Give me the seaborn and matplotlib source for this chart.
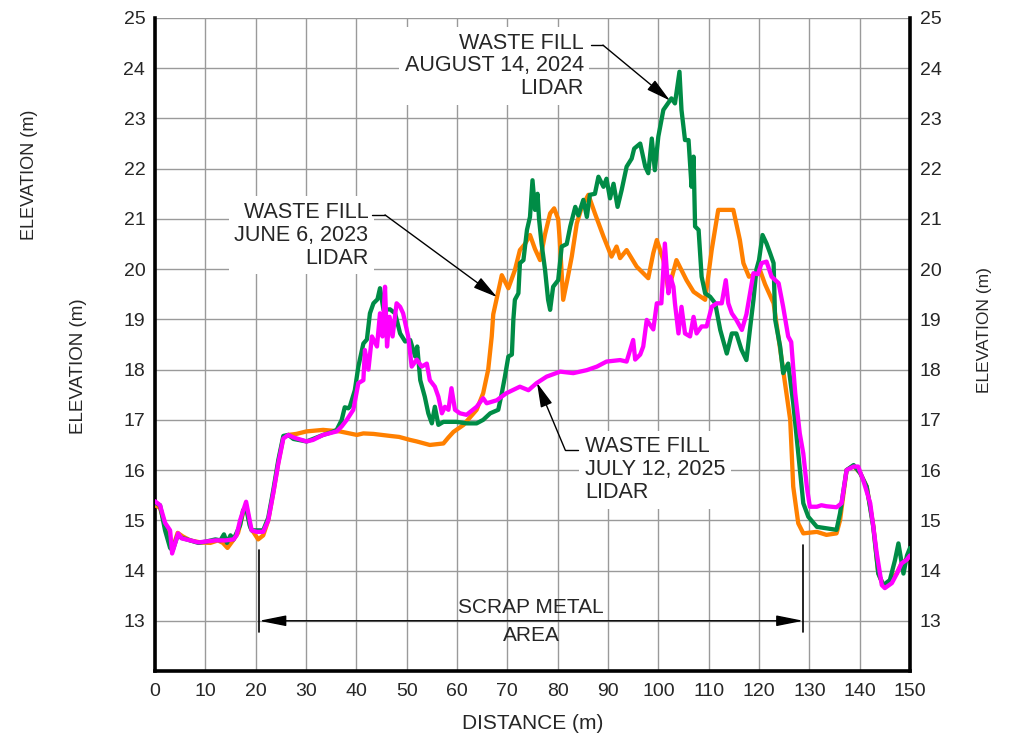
import numpy as np
import pandas as pd
import matplotlib
matplotlib.use("Agg")
import matplotlib.pyplot as plt
import seaborn as sns

# ---- Elevation profiles (distance in m, elevation in m) ----
dist_2023 = [0, 1, 2, 3, 3.5, 4.5, 5.5, 7, 9, 11, 12.5, 13.5, 14.4, 15.5, 16.5, 17.5, 18.1, 19, 20.5,
             21.5, 22.5, 23.5, 24.5, 25.5, 26.5, 28.1, 30.1, 33.4, 36.7, 40.1, 41.4, 43.4, 46.7, 48.5,
             50.7, 52, 54.6, 57.3, 58.3, 59.3, 61.3, 63.9, 65.2, 65.9, 66.2, 66.9, 67.2, 67.9, 68.9,
             70.2, 71.5, 72.5, 73.5, 74.5, 75.5, 76.5, 77.5, 78.5, 79.3, 80.1, 80.4, 81.1, 81.9, 82.8,
             83.8, 84.8, 86.1, 87.4, 89.1, 90.7, 91.7, 92.4, 93.7, 95.7, 97.0, 98.0, 99.0, 99.7, 101,
             102, 103.6, 105.6, 107, 109.3, 110.6, 111.9, 114.9, 116.2, 116.9, 118, 119.5, 120.2,
             121.2, 122.9, 124.8, 126.2, 126.8, 127.8, 128.8, 131.5, 133.4, 135.4, 136.1, 137.4,
             138.8, 140.1, 141.4, 142.7, 143.7, 144.7, 146, 147.4, 148.3, 149.3, 150]
elev_2023 = [15.3, 15.25, 14.9, 14.6, 14.45, 14.75, 14.68, 14.6, 14.56, 14.55, 14.6, 14.55, 14.45, 14.6,
             14.75, 15.15, 15.3, 14.85, 14.62, 14.7, 15.0, 15.55, 16.15, 16.65, 16.7, 16.72, 16.77,
             16.8, 16.77, 16.7, 16.73, 16.72, 16.68, 16.66, 16.6, 16.57, 16.5, 16.53, 16.65, 16.76,
             16.9, 17.2, 17.53, 17.86, 18.0, 18.66, 19.1, 19.42, 19.88, 19.62, 19.98, 20.38, 20.5,
             20.68, 20.4, 20.18, 20.7, 21.11, 21.21, 21.0, 20.6, 19.39, 19.78, 20.25, 20.91, 21.24,
             21.48, 21.11, 20.65, 20.25, 20.45, 20.22, 20.38, 20.05, 19.92, 19.82, 20.32, 20.58,
             20.18, 19.58, 20.18, 19.78, 19.55, 19.39, 20.38, 21.18, 21.18, 20.58, 20.12, 19.85,
             19.9, 19.98, 19.7, 19.32, 17.99, 17.0, 15.67, 14.94, 14.74, 14.77, 14.71, 14.74, 15.0,
             16.0, 16.08, 15.94, 15.67, 14.9, 13.95, 13.7, 13.78, 13.95, 14.14, 14.22, 14.3]

dist_2024 = [0, 1, 2, 3, 3.5, 4.5, 5.3, 7, 8.6, 10.3, 12, 13, 13.7, 14.3, 15, 15.6, 16.2, 16.9, 17.5,
             18.1, 18.8, 19.2, 20.2, 21.5, 22.5, 23.5, 24.5, 25.5, 26.5, 27.5, 28.5, 30.1, 31.4, 33.4,
             35, 36.1, 37.1, 37.7, 38.4, 38.7, 39.7, 40.4, 41.4, 42.1, 42.7, 43.4, 44.2, 44.7, 45.4,
             46.7, 47.7, 48.7, 49.7, 50.7, 51.7, 52.1, 52.7, 53.6, 54.3, 55.0, 55.6, 56.3, 57.3, 58.6,
             59.9, 61.9, 63.9, 65.2, 66.6, 68.2, 68.9, 69.5, 70.2, 70.9, 71.2, 71.5, 72.2, 72.5, 73.2,
             73.9, 74.5, 75.0, 75.5, 76.0, 76.3, 76.8, 77.5, 78.1, 78.5, 79.1, 80.1, 80.8, 81.8, 82.5,
             83.5, 84.1, 85.1, 85.8, 86.4, 87.4, 88.1, 89.1, 89.7, 90.4, 91.1, 91.9, 92.7, 93.7, 94.7,
             95.2, 96.4, 97.4, 98.0, 98.7, 99.3, 100.0, 101.0, 102.6, 103.3, 104.2, 104.6, 105.3,
             106.0, 106.6, 107.0, 107.3, 108.0, 108.6, 109.3, 110.3, 111.3, 112.3, 113.6, 114.6,
             115.5, 116.5, 117.5, 118.2, 118.9, 119.5, 120.0, 120.7, 121.5, 122.2, 122.9, 123.2,
             124.2, 124.8, 125.8, 126.8, 127.8, 128.8, 129.8, 131.5, 133.4, 135.4, 136.1, 137.4,
             138.8, 140.1, 141.4, 142.7, 143.7, 144.7, 146.0, 147.0, 147.7, 148.7, 149.4, 150]
elev_2024 = [15.35, 15.3, 14.8, 14.45, 14.4, 14.7, 14.65, 14.6, 14.55, 14.58, 14.62, 14.6, 14.72, 14.55,
             14.7, 14.62, 14.75, 14.9, 15.2, 15.25, 14.9, 14.8, 14.8, 14.8, 15.05, 15.6, 16.2, 16.68,
             16.7, 16.62, 16.6, 16.57, 16.62, 16.7, 16.75, 16.8, 17.0, 17.25, 17.23, 17.26, 17.59,
             18.06, 18.52, 18.6, 19.12, 19.32, 19.4, 19.62, 19.19, 19.2, 19.12, 18.72, 18.56, 18.59,
             18.26, 18.46, 17.79, 17.46, 17.13, 16.93, 17.26, 16.9, 16.96, 16.96, 16.96, 16.93, 16.93,
             17.0, 17.13, 17.2, 17.53, 17.85, 18.26, 18.3, 19.0, 19.39, 19.52, 20.12, 20.18, 20.78,
             21.04, 21.77, 21.18, 21.5, 21.0, 20.51, 19.98, 19.39, 19.19, 19.65, 19.78, 20.45, 20.5,
             20.85, 21.24, 21.07, 21.38, 21.04, 21.48, 21.5, 21.84, 21.64, 21.8, 21.41, 21.7, 21.24,
             21.57, 22.04, 22.2, 22.4, 22.5, 22.04, 21.91, 22.6, 21.97, 22.64, 23.17, 23.4, 23.3,
             23.93, 23.17, 22.57, 22.57, 21.64, 22.24, 20.85, 20.78, 19.85, 19.52, 19.45, 19.32,
             18.79, 18.32, 18.72, 18.72, 18.4, 18.19, 18.8, 19.39, 20.0, 20.18, 20.68, 20.51, 20.32,
             20.12, 19.0, 18.46, 17.93, 18.12, 17.33, 16.33, 15.34, 15.07, 14.87, 14.84, 14.81,
             15.14, 16.0, 16.1, 15.94, 15.67, 14.87, 13.94, 13.71, 13.81, 14.2, 14.54, 13.94, 14.3,
             14.45]

dist_2025 = [0, 1, 2, 3, 3.4, 4.6, 5.3, 7, 8.6, 10.3, 12, 14, 15.6, 16.2, 16.9, 18.1, 19.2, 20.2, 21.5,
             22.5, 23.5, 24.5, 25.5, 26.5, 27.5, 30.1, 31.4, 33.4, 36.1, 37.1, 38.1, 39.4, 40.4, 41.4,
             41.7, 42.4, 43.1, 44.1, 44.7, 45.2, 45.7, 46.1, 46.6, 47.2, 48.0, 48.7, 49.3, 50.3, 51.0,
             52.0, 53.0, 54.0, 54.6, 55.6, 56.3, 57.0, 57.6, 58.3, 58.9, 59.6, 60.6, 61.9, 63.9, 65.2,
             65.9, 67.9, 69.8, 72.5, 74.2, 75.8, 77.8, 80.5, 83.1, 85.8, 87.8, 89.7, 92.4, 93.7, 95.0,
             95.4, 96.4, 97.0, 97.7, 98.3, 99.0, 99.7, 100.6, 101.3, 102.0, 102.4, 103.0, 103.3,
             104.0, 104.6, 105.3, 106.3, 107.0, 107.6, 108.6, 109.6, 110.6, 111.6, 112.6, 113.4,
             113.9, 114.6, 115.5, 116.6, 117.5, 118.9, 119.8, 120.5, 121.5, 122.5, 123.9, 124.8,
             125.8, 126.4, 127.2, 128.1, 128.8, 129.5, 130.1, 131.5, 132.4, 133.4, 135.4, 136.4,
             137.4, 138.8, 139.7, 140.7, 142.1, 143.4, 144.4, 145.0, 146.4, 147.4, 148.3, 149.3, 150]
elev_2025 = [15.38, 15.3, 14.95, 14.8, 14.34, 14.74, 14.64, 14.6, 14.56, 14.58, 14.6, 14.6, 14.62, 14.7,
             15.0, 15.37, 14.8, 14.77, 14.77, 15.0, 15.54, 16.13, 16.63, 16.7, 16.65, 16.57, 16.6,
             16.7, 16.77, 16.87, 17.0, 17.2, 17.73, 17.79, 18.39, 18.0, 18.66, 18.46, 19.12, 18.66,
             19.65, 18.46, 19.05, 18.66, 19.32, 19.25, 19.12, 18.66, 18.06, 18.2, 18.06, 18.12, 17.79,
             17.66, 17.46, 17.13, 17.26, 17.2, 17.63, 17.2, 17.13, 17.1, 17.26, 17.43, 17.33, 17.39,
             17.53, 17.66, 17.59, 17.73, 17.86, 17.96, 17.93, 17.99, 18.06, 18.16, 18.19, 18.16,
             18.59, 18.2, 18.3, 18.46, 18.99, 18.9, 18.8, 19.32, 19.32, 20.51, 19.52, 19.85, 19.65,
             19.32, 18.72, 19.25, 18.72, 18.66, 19.05, 18.72, 18.86, 18.86, 19.25, 19.32, 19.32,
             19.78, 19.32, 19.12, 18.99, 18.79, 19.1, 19.92, 19.9, 20.12, 20.15, 19.85, 19.72, 19.25,
             18.66, 18.55, 17.53, 16.73, 16.33, 15.67, 15.27, 15.27, 15.3, 15.28, 15.26, 15.34, 16.0,
             16.07, 16.07, 15.8, 15.34, 14.34, 13.71, 13.65, 13.75, 13.94, 14.14, 14.21, 14.3]

survey_names = ["2023", "2024", "2025"]
line_colors = {"2023": "#FF8000", "2024": "#008C46", "2025": "#FF00FF"}
x_ticks = list(range(0, 151, 10))
y_ticks = list(range(13, 26))

profiles = pd.concat([
    pd.DataFrame({"distance": dist_2023, "elevation": elev_2023, "survey": "2023"}),
    pd.DataFrame({"distance": dist_2024, "elevation": elev_2024, "survey": "2024"}),
    pd.DataFrame({"distance": dist_2025, "elevation": elev_2025, "survey": "2025"}),
], ignore_index=True)

sns.set_style("white")
plt.rcParams["font.family"] = ["Liberation Sans", "DejaVu Sans"]

fig = plt.figure(figsize=(10.26, 7.44), dpi=100)
ax = fig.add_axes([155 / 1026, 1 - 671 / 744, 755 / 1026, 653 / 744])

sns.lineplot(data=profiles, x="distance", y="elevation", hue="survey",
             hue_order=survey_names, palette=line_colors, estimator=None,
             sort=False, linewidth=3.1, legend=False, ax=ax, zorder=3)

ax.set_xlim(0, 150)
ax.set_ylim(12, 25)
ax.set_xticks(x_ticks)
ax.set_yticks(y_ticks)
ax.grid(True, color="#9a9a9a", linewidth=1.0, zorder=0)
ax.set_axisbelow(True)
ax.tick_params(axis="both", length=0, labelsize=14)
ax.tick_params(axis="y", labelright=True, pad=7)
ax.tick_params(axis="x", pad=9)
ax.set_xlabel("DISTANCE (m)", fontsize=15, labelpad=10)
ax.set_ylabel("ELEVATION (m)", fontsize=13.5, labelpad=14)
ax.yaxis.set_label_coords(-0.09, 0.467)

ax.spines["top"].set_visible(False)
for side in ("left", "right", "bottom"):
    ax.spines[side].set_color("black")
    ax.spines[side].set_linewidth(2.6)

fig.text(30 / 1026, 1 - 175 / 744, "ELEVATION (m)", rotation=90, ha="center", va="center",
         fontsize=13)
fig.text(985 / 1026, 1 - 330 / 744, "ELEVATION (m)", rotation=90, ha="center", va="center",
         fontsize=12.5)

# ---- Callouts pointing at each survey line ----
series_xy = {"2023": (dist_2023, elev_2023), "2024": (dist_2024, elev_2024),
             "2025": (dist_2025, elev_2025)}
arrow_style = "-|>,head_length=1.0,head_width=0.25"
white_box = dict(facecolor="white", edgecolor="none", pad=4)


def callout(label, survey, x_target, text_pos, ha, line_from, corner):
    xs, ys = series_xy[survey]
    target = (x_target, float(np.interp(x_target, xs, ys)))
    ax.text(text_pos[0], text_pos[1], label, ha=ha, va="top", fontsize=15.5,
            linespacing=1.12, bbox=white_box, zorder=5)
    ax.plot([line_from, corner[0]], [corner[1], corner[1]], color="black", lw=1, zorder=6)
    ax.annotate("", xy=target, xytext=corner,
                arrowprops=dict(arrowstyle=arrow_style, mutation_scale=15, color="black",
                                lw=1, shrinkA=0, shrinkB=0), zorder=6)


callout("WASTE FILL\nAUGUST 14, 2024\nLIDAR", "2024", 102.3, (85.2, 24.71), "right", 86.6, (89.0, 24.46))
callout("WASTE FILL\nJUNE 6, 2023\nLIDAR", "2023", 67.95, (42.4, 21.34), "right", 43.2, (45.7, 21.08))
callout("WASTE FILL\nJULY 12, 2025\nLIDAR", "2025", 75.9, (85.4, 16.67), "left", 84.0, (81.5, 16.4))

# ---- Scrap metal area extent ----
area_start, area_end = 20.7, 128.8
ax.plot([area_start, area_start], [12.78, 14.41], color="black", lw=1.2, zorder=6)
ax.plot([area_end, area_end], [12.78, 14.5], color="black", lw=1.2, zorder=6)
ax.annotate("", xy=(area_start, 13), xytext=(area_end, 13),
            arrowprops=dict(arrowstyle="<|-|>,head_length=1.1,head_width=0.22",
                            mutation_scale=15, color="black", lw=1, shrinkA=0, shrinkB=0),
            zorder=6)
ax.text((area_start + area_end) / 2, 13.27, "SCRAP METAL", ha="center", va="center",
        fontsize=15, zorder=6)
ax.text((area_start + area_end) / 2, 12.7, "AREA", ha="center", va="center",
        fontsize=15, zorder=6)

fig.savefig("out.png", dpi=100)
